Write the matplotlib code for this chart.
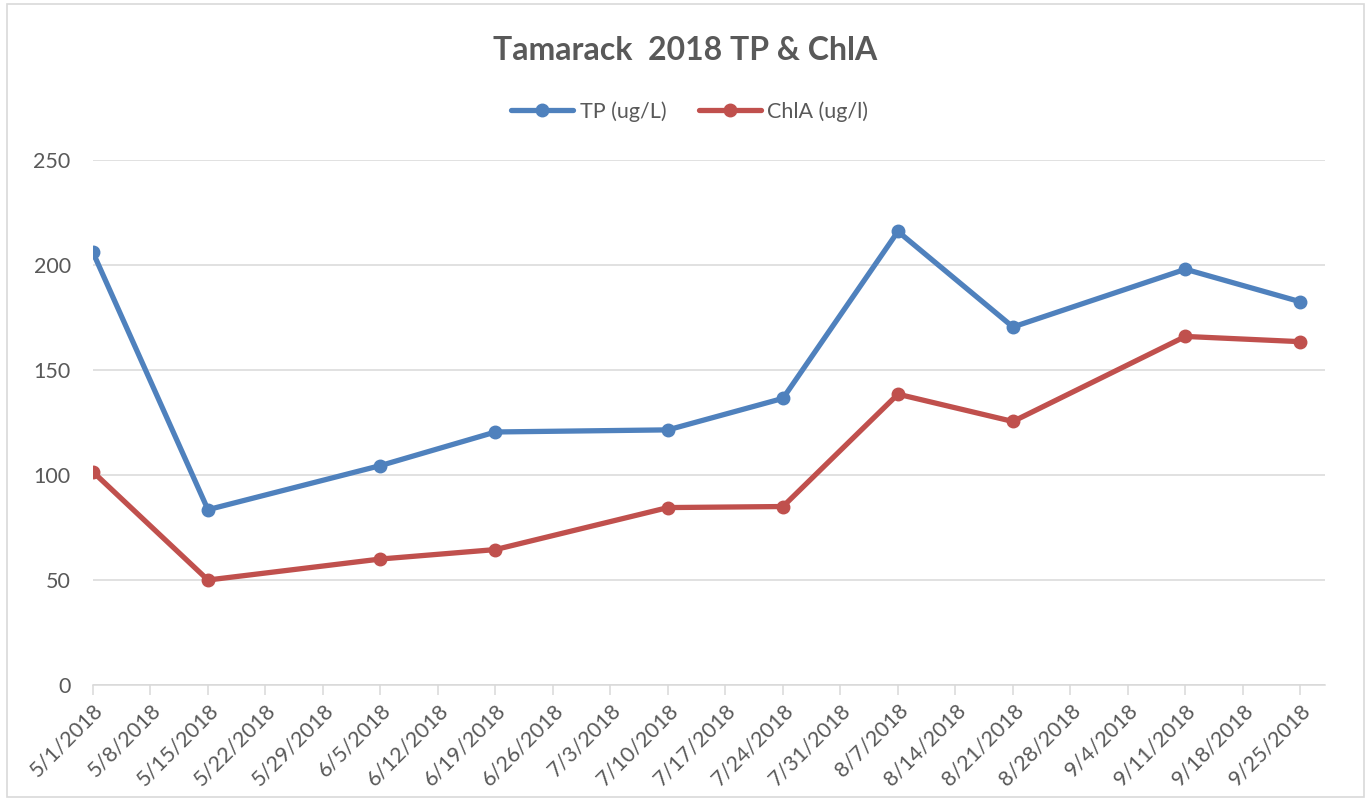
import matplotlib
matplotlib.use("Agg")
import matplotlib.pyplot as plt
from matplotlib.patches import Rectangle
import pandas as pd

dates = ["2018-05-01", "2018-05-15", "2018-06-05", "2018-06-19", "2018-07-10",
         "2018-07-24", "2018-08-07", "2018-08-21", "2018-09-11", "2018-09-25"]
tp = [206, 83.5, 104.5, 120.5, 121.5, 136.5, 216, 170.5, 198, 182.5]
chla = [101.5, 50, 60, 64.5, 84.5, 85, 138.5, 125.5, 166, 163.5]

x = pd.to_datetime(dates)
tick_dates = pd.date_range("2018-05-01", "2018-09-25", freq="7D")

plt.rcParams['font.family'] = ['Lato', 'DejaVu Sans']
text_col = "#595959"
grid_col = "#D9D9D9"
blue = "#4F81BD"
red = "#C0504D"

fig = plt.figure(figsize=(13.71, 8.01), dpi=100)
fig.patches.append(Rectangle((0.005, 0.005), 0.99, 0.99, transform=fig.transFigure,
                             fill=False, edgecolor="#D9D9D9", linewidth=1.2))

ax = fig.add_axes([0.0678, 0.1448, 0.8987, 0.6554])
ax.plot(x, tp, color=blue, lw=3.8, marker="o", ms=9, label="TP (ug/L)",
        solid_capstyle="round")
ax.plot(x, chla, color=red, lw=3.8, marker="o", ms=9, label="ChlA (ug/l)",
        solid_capstyle="round")

ax.set_ylim(0, 250)
ax.set_yticks(range(0, 251, 50))
ax.set_xlim(pd.Timestamp("2018-05-01"), pd.Timestamp("2018-09-28"))
ax.set_xticks(tick_dates)
ax.set_xticklabels([f"{d.month}/{d.day}/{d.year}" for d in tick_dates],
                   rotation=45, ha="right", rotation_mode="anchor")

ax.grid(axis="y", color=grid_col, lw=1.1)
ax.set_axisbelow(True)
for s in ["top", "right", "left"]:
    ax.spines[s].set_visible(False)
ax.spines["bottom"].set_color(grid_col)
ax.spines["bottom"].set_linewidth(1.1)
ax.tick_params(axis="x", colors=grid_col, labelcolor=text_col, labelsize=15.5,
               length=7, width=1.1, pad=4)
ax.tick_params(axis="y", length=0, labelcolor=text_col, labelsize=15.5, pad=16)

fig.text(0.5, 0.937, "Tamarack  2018 TP & ChlA", ha="center", va="center",
         fontsize=23, fontweight="bold", color=text_col)
fig.legend(loc="center", bbox_to_anchor=(0.503, 0.861), ncol=2, frameon=False,
           fontsize=15.5, labelcolor=text_col, handlelength=2.9, columnspacing=1.5,
           handletextpad=0.3)

fig.savefig("out.png", dpi=100, facecolor="white")
